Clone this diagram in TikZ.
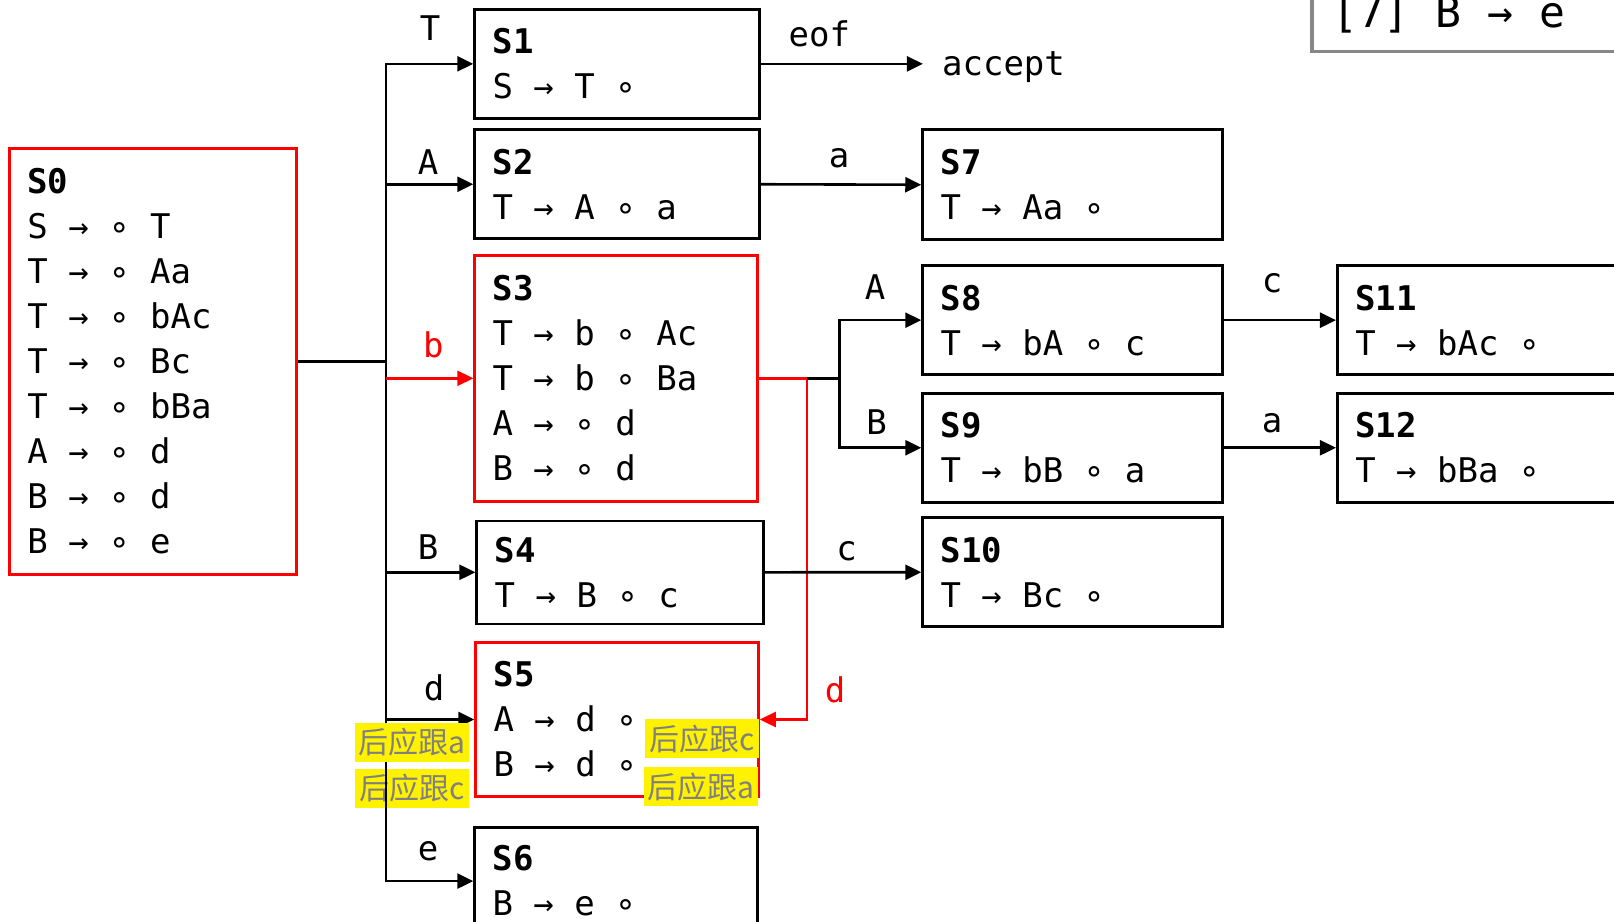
\documentclass[tikz,border=0pt]{standalone}
\usepackage{fontspec}
\setmonofont{DejaVu Sans Mono}
\newfontfamily\cjkfont{Noto Sans CJK SC}
\usetikzlibrary{arrows.meta}
\newcommand\boxfont{\ttfamily\fontsize{34}{45}\selectfont}
% keep the font's own full-cell interword space inside aligned nodes
\newcommand\cellspace{\spaceskip=0pt\xspaceskip=0pt\relax}
\definecolor{hintgray}{RGB}{128,128,128}
\definecolor{framegray}{RGB}{135,135,135}
\begin{document}
\begin{tikzpicture}[x=1pt,y=-1pt,
  stbox/.style={draw=black,line width=2.6pt,inner xsep=18pt,inner ysep=0pt,
    align=left,font=\boxfont},
  redbox/.style={stbox,draw=red,line width=2.4pt},
  conn/.style={line width=2.6pt,black},
  redconn/.style={line width=2.4pt,red},
  arr/.style={-{Triangle[length=16pt,width=15pt]}},
  lbl/.style={font=\boxfont,inner sep=0pt},
  hint/.style={fill=yellow,text=hintgray,font=\cjkfont\fontsize{30}{30}\selectfont,
    minimum width=114pt,minimum height=39pt,inner sep=0pt}]
\useasboundingbox (0,0) rectangle (1614,921);
\clip (0,0) rectangle (1614,921);

% item sets
\node[redbox,minimum width=287pt,minimum height=426pt,text width=251pt] (s0) at (152.85,361.35)
  {\cellspace\textbf{S0}\\S → ∘ T\\T → ∘ Aa\\T → ∘ bAc\\T → ∘ Bc\\T → ∘ bBa\\A → ∘ d\\B → ∘ d\\B → ∘ e};
\node[stbox,minimum width=285pt,minimum height=109pt,text width=249pt] (s1) at (617.05,63.85)
  {\cellspace\textbf{S1}\\S → T ∘};
\node[stbox,minimum width=285pt,minimum height=109pt,text width=249pt] (s2) at (617.05,184.25)
  {\cellspace\textbf{S2}\\T → A ∘ a};
\node[redbox,minimum width=283pt,minimum height=246pt,text width=247pt] (s3) at (616.05,378.3)
  {\cellspace\textbf{S3}\\T → b ∘ Ac\\T → b ∘ Ba\\A → ∘ d\\B → ∘ d};
\node[stbox,minimum width=287pt,minimum height=103pt,text width=251pt] (s4) at (620.15,572.3)
  {\cellspace\textbf{S4}\\T → B ∘ c};
\node[redbox,minimum width=283pt,minimum height=154pt,text width=247pt] (s5) at (617.05,719.5)
  {\cellspace\textbf{S5}\\A → d ∘\\B → d ∘};
\node[stbox,minimum width=283pt,minimum height=107pt,text width=247pt] (s6) at (616.05,881.1)
  {\cellspace\textbf{S6}\\B → e ∘};
\node[stbox,minimum width=300pt,minimum height=110pt,text width=264pt] (s7) at (1072.55,184.75)
  {\cellspace\textbf{S7}\\T → Aa ∘};
\node[stbox,minimum width=300pt,minimum height=109pt,text width=264pt] (s8) at (1072.55,320.15)
  {\cellspace\textbf{S8}\\T → bA ∘ c};
\node[stbox,minimum width=300pt,minimum height=109pt,text width=264pt] (s9) at (1072.55,447.75)
  {\cellspace\textbf{S9}\\T → bB ∘ a};
\node[stbox,minimum width=300pt,minimum height=109pt,text width=264pt] (s10) at (1072.55,572.25)
  {\cellspace\textbf{S10}\\T → Bc ∘};
\node[stbox,minimum width=300pt,minimum height=109pt,text width=264pt] (s11) at (1487.25,320.15)
  {\cellspace\textbf{S11}\\T → bAc ∘};
\node[stbox,minimum width=300pt,minimum height=109pt,text width=264pt] (s12) at (1487.25,447.75)
  {\cellspace\textbf{S12}\\T → bBa ∘};

% grammar rule frame, top right
\draw[framegray,line width=3.5pt] (1312,-40) rectangle (1700,51.7);
\node[anchor=base west,inner sep=0pt,font=\ttfamily\fontsize{43}{43}\selectfont] (r7) at (1332,27) {[7] B → e};

\node[lbl] (acc) at (1003.5,67) {accept};

% follow hint drawn beneath the trunk
\node[hint] (h2) at (412.2,788) {后应跟c};

% transitions out of S0
\coordinate (j0) at (386,361.35);
\draw[conn] (s0.east) -- (j0);
\foreach \t in {s1,s2,s4,s5,s6}
  \draw[conn,arr] (j0) |- (\t.west);
\draw[redconn,arr] (j0 |- s3.west) -- (s3.west);

% transitions out of S3
\coordinate (r3) at (806.7,378.3);
\coordinate (j3) at (839.5,378.3);
\draw[redconn] (s3.east) -- (r3);
\draw[redconn,arr] (r3) |- (s5.east);
\draw[conn] (r3) -- (j3);
\draw[conn,arr] (j3) |- (s8.west);
\draw[conn,arr] (j3) |- (s9.west);

% remaining transitions
\draw[conn,arr,shorten >=19pt] (s1.east) -- (s1.east -| acc.west);
\draw[conn,arr] (s2.east) -- (s7.west);
\draw[conn,arr] (s4.east) -- (s10.west);
\draw[conn,arr] (s8.east) -- (s11.west);
\draw[conn,arr] (s9.east) -- (s12.west);

% transition symbols
\node[lbl] (lT) at (430,27.8) {T};
\node[lbl] (lA) at (428,162.6) {A};
\node[lbl,text=red] (lb) at (433.3,344.8) {b};
\node[lbl] (lB) at (428,546.6) {B};
\node[lbl] (ld) at (434,688) {d};
\node[lbl] (le) at (428,851.2) {e};
\node[lbl] (leof) at (819.3,34) {eof};
\node[lbl] (la7) at (839,158.5) {a};
\node[lbl] (lA8) at (875,286.7) {A};
\node[lbl] (lB9) at (876.7,421.7) {B};
\node[lbl] (lc10) at (846.7,551.7) {c};
\node[lbl] (lc11) at (1272,283.5) {c};
\node[lbl] (la12) at (1272,423) {a};
\node[lbl,text=red] (ldr) at (835,690) {d};

% follow hints
\node[hint] (h1) at (412.2,742.2) {后应跟a};
\node[hint] (h3) at (702.2,738.9) {后应跟c};
\node[hint] (h4) at (700.9,786.9) {后应跟a};
\end{tikzpicture}
\end{document}
